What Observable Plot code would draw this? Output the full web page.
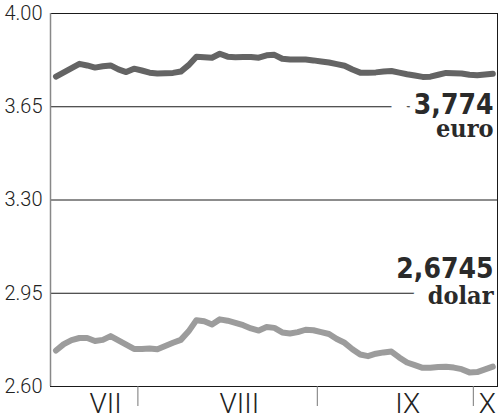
<!DOCTYPE html>
<html><head><meta charset="utf-8">
<script src="https://cdn.jsdelivr.net/npm/d3@7"></script>
<script src="https://cdn.jsdelivr.net/npm/@observablehq/plot@0.6"></script>
<style>body{margin:0;background:#fff}</style>
</head><body><div id="chart"></div>
<script>
// Daily fixings, mid-July to early October (trading-day index)
const euro = [3.763,3.779,3.795,3.811,3.805,3.797,3.802,3.805,3.790,3.780,
  3.793,3.786,3.778,3.775,3.776,3.777,3.782,3.806,3.838,3.836,
  3.834,3.849,3.838,3.836,3.837,3.837,3.834,3.843,3.845,3.830,
  3.827,3.827,3.827,3.824,3.820,3.816,3.810,3.804,3.790,3.778,
  3.778,3.779,3.782,3.784,3.778,3.772,3.767,3.762,3.763,3.770,
  3.777,3.776,3.775,3.770,3.768,3.771,3.774];
const dolar = [2.735,2.759,2.774,2.782,2.782,2.771,2.775,2.789,2.773,2.757,
  2.741,2.741,2.743,2.740,2.752,2.764,2.775,2.807,2.849,2.845,
  2.833,2.852,2.847,2.839,2.830,2.818,2.810,2.823,2.820,2.803,
  2.799,2.804,2.813,2.811,2.804,2.797,2.778,2.764,2.740,2.720,
  2.714,2.723,2.728,2.731,2.709,2.690,2.680,2.670,2.670,2.673,
  2.674,2.671,2.665,2.653,2.654,2.664,2.6745];
const yTicks = [2.60, 2.95, 3.30, 3.65, 4.00];
const monthLabels = ["VII", "VIII", "IX", "X"];
const monthLabelAt = [6.35, 23.5, 45.1, 55.3];
const monthBreaks = [10.5, 33.5, 53.5];
const lastEuro = "3,774";
const lastDolar = "2,6745";
const names = ["euro", "dolar"];

const xDomain = [-0.705, 56.6];
const euroRows = euro.map((v, i) => ({i, v}));
const dolarRows = dolar.map((v, i) => ({i, v}));

const numFont = "'DejaVu Sans Condensed', 'DejaVu Sans', sans-serif";
const nameFont = "'DejaVu Serif Condensed', 'DejaVu Serif', serif";
const axisFont = "Roboto, 'Liberation Sans', sans-serif";

const chart = Plot.plot({
  width: 500, height: 419,
  marginLeft: 50, marginRight: 3, marginTop: 13, marginBottom: 33,
  x: {domain: xDomain, axis: null, label: null},
  y: {domain: [2.60, 4.00], axis: null, label: null},
  style: {background: "#fff", color: "#222", fontFamily: axisFont},
  marks: [
    Plot.ruleY(yTicks, {stroke: "#1a1a1a", strokeWidth: 1}),
    // end labels; white halos interrupt the gridlines
    Plot.text([lastEuro], {y: yTicks[3], frameAnchor: "right", textAnchor: "end", lineAnchor: "bottom",
      dx: -4, dy: 7, fontSize: 28, fontWeight: "bold", fontFamily: numFont,
      fill: "#2a2a2a", stroke: "white", strokeWidth: 48, paintOrder: "stroke"}),
    Plot.text([names[0]], {y: yTicks[3], frameAnchor: "right", textAnchor: "end", lineAnchor: "bottom",
      dx: -4, dy: 30, fontSize: 25, fontWeight: "bold", fontFamily: nameFont, fill: "#2a2a2a"}),
    Plot.text([names[1]], {y: yTicks[1], frameAnchor: "right", textAnchor: "end", lineAnchor: "bottom",
      dx: -4, dy: 11, fontSize: 25, fontWeight: "bold", fontFamily: nameFont,
      fill: "#2a2a2a", stroke: "white", strokeWidth: 30, paintOrder: "stroke"}),
    Plot.text([lastDolar], {y: yTicks[1], frameAnchor: "right", textAnchor: "end", lineAnchor: "bottom",
      dx: -4, dy: -15, fontSize: 28, fontWeight: "bold", fontFamily: numFont, fill: "#2a2a2a"}),
    Plot.frame({stroke: "#1a1a1a"}),
    Plot.ruleX([xDomain[0]], {stroke: "#888", strokeWidth: 1.5}),
    Plot.axisY(yTicks, {tickSize: 0, tickPadding: 8, tickFormat: d => d.toFixed(2), label: null,
      fontSize: 20, fontWeight: 300, fontFamily: axisFont}),
    Plot.axisX(monthBreaks, {tickSize: 20, tickFormat: () => "", stroke: "#777", label: null}),
    Plot.axisX(monthLabelAt, {tickSize: 0, tickPadding: 7, label: null,
      tickFormat: d => monthLabels[monthLabelAt.indexOf(d)],
      fontSize: 28, fontWeight: 300, fontFamily: axisFont}),
    Plot.line(euroRows, {x: "i", y: "v", stroke: "#646464", strokeWidth: 6,
      strokeLinejoin: "round", strokeLinecap: "round"}),
    Plot.line(dolarRows, {x: "i", y: "v", stroke: "#9c9c9c", strokeWidth: 6,
      strokeLinejoin: "round", strokeLinecap: "round"})
  ]
});
document.getElementById("chart").appendChild(chart);
</script>
</body></html>
